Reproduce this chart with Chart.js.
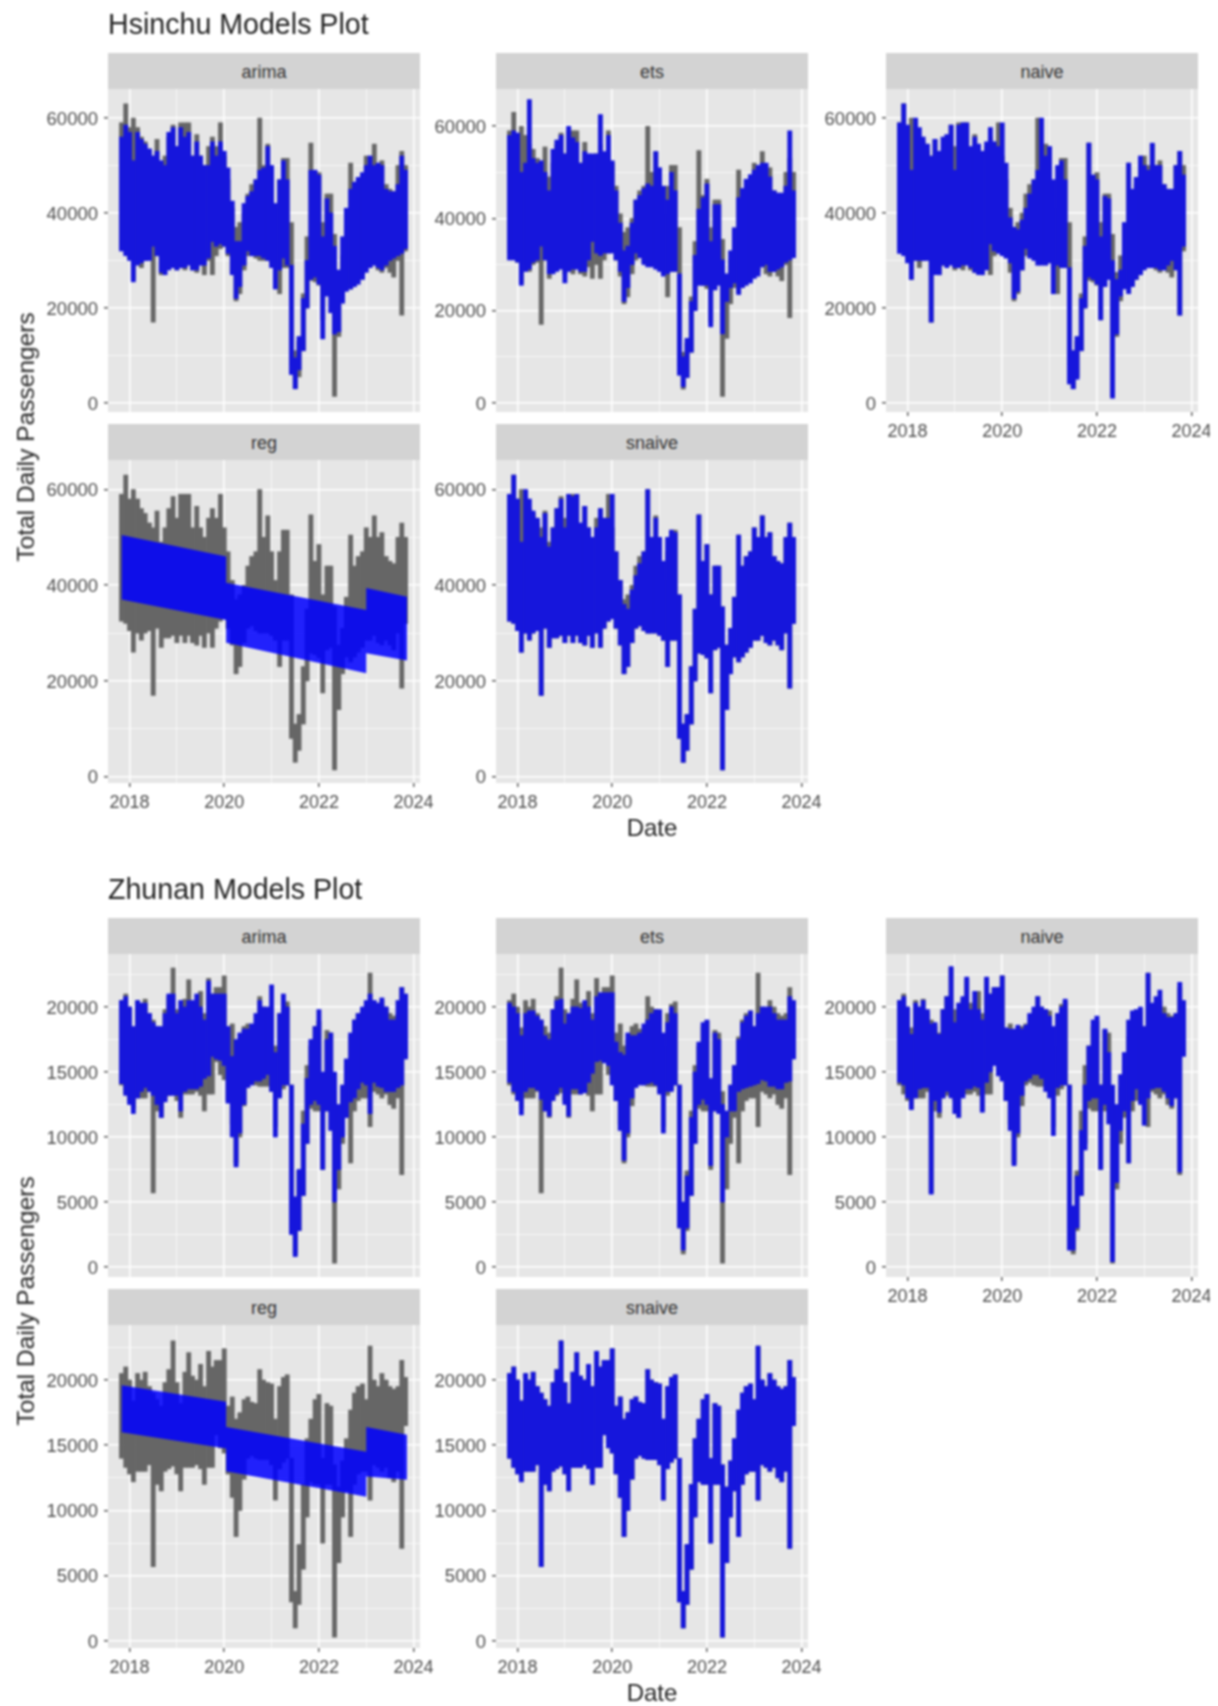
<!DOCTYPE html>
<html lang="en">
<head>
  <meta charset="UTF-8" />
  <title>Models Plot</title>
  <script src="https://cdn.jsdelivr.net/npm/chart.js"></script>
  <style>
    html, body {margin:0;background:#fff;}
    #stage {position:relative;width:1218px;height:1706px;overflow:hidden;font-family:"Liberation Sans",sans-serif;filter:blur(0.9px);}
    #stage canvas {position:absolute;}
    .title {position:absolute;left:108px;font-size:28.6px;line-height:32px;color:#222;white-space:nowrap;}
    .strip {position:absolute;width:312px;height:36px;line-height:38px;background:#d3d3d3;color:#333;text-align:center;font-size:18px;}
    .date {position:absolute;width:312px;text-align:center;font-size:24px;line-height:26px;color:#222;}
    .ylab {position:absolute;left:26px;font-size:24.5px;line-height:26px;color:#222;white-space:nowrap;transform:translate(-50%,-50%) rotate(-90deg);}
  </style>
</head>
<body>
<div id="stage"></div>
<script>
// --------- Axis ticks ---------
const xTicks = [2018,2019,2020,2021,2022,2023,2024];
const hsinchuTicks = [0,10000,20000,30000,40000,50000,60000];
const zhunanTicks = [0,2500,5000,7500,10000,12500,15000,17500,20000,22500];

// --------- Data: monthly envelope of the daily series ---------
const monthDates = [2017.83,2017.92,
  2018.00,2018.08,2018.17,2018.25,2018.33,2018.42,2018.50,2018.58,2018.67,2018.75,2018.83,2018.92,
  2019.00,2019.08,2019.17,2019.25,2019.33,2019.42,2019.50,2019.58,2019.67,2019.75,2019.83,2019.92,
  2020.00,2020.08,2020.17,2020.25,2020.33,2020.42,2020.50,2020.58,2020.67,2020.75,2020.83,2020.92,
  2021.00,2021.08,2021.17,2021.25,2021.33,2021.42,2021.50,2021.58,2021.67,2021.75,2021.83,2021.92,
  2022.00,2022.08,2022.17,2022.25,2022.33,2022.42,2022.50,2022.58,2022.67,2022.75,2022.83,2022.92,
  2023.00,2023.08,2023.17,2023.25,2023.33,2023.42,2023.50,2023.58,2023.67,2023.75,2023.83];

const hsinchuActualHi = [59000,63000,58000,60000,58000,56000,55000,53000,52000,55500,49000,52000,
  56000,58500,54000,59000,59000,59000,52000,56500,52000,50000,54000,56000,
  54000,59000,52000,47000,41000,37000,38000,40000,44000,46000,47000,60000,
  50000,54500,47000,41000,47000,51500,51500,38000,11000,13000,23000,35000,
  54700,45000,48500,38000,44000,44000,35500,27500,31000,37500,50500,44000,
  46000,47000,52000,50000,54500,50000,51000,46000,45000,44500,50000,53000,50000];
const hsinchuActualLo = [32500,32000,30500,26000,30000,28500,30000,30500,17000,31000,27000,29000,
  29000,29500,28000,29500,28000,29500,28000,27500,29500,27000,30000,27000,
  31000,32500,33000,31000,27500,21500,23000,28000,31000,31500,30500,30000,
  30000,30000,29500,28500,23000,28500,28500,8000,3000,5500,11000,20000,
  25800,25500,24800,17500,26500,27000,1400,14000,21500,25000,24000,25000,
  26000,27000,28500,28500,29500,28000,27500,28500,27500,26500,30000,18500,32000];

const hsinchuArimaHi = [56000,58500,57000,51000,57000,55500,54500,53500,52000,53000,51000,50000,
  57000,58000,54000,58000,56000,57000,52000,55000,52000,50000,50000,55000,
  52000,55000,53000,49500,42500,34000,34000,42000,43500,44500,47000,49000,
  49500,54000,50000,42000,47000,51000,47000,29000,9500,14000,22000,30000,
  49000,49000,48000,35000,43000,40000,33000,28000,35000,41000,45000,46500,
  47500,48500,50000,52000,50000,50500,50000,45000,44500,44500,46000,52000,49000];
const hsinchuArimaLo = [32000,31000,30000,25500,29000,29500,30000,30000,33000,31000,27500,27000,
  28000,28500,28000,28500,28500,29000,28000,28000,29000,29000,30500,34000,
  33000,33500,33000,31500,27000,22000,24500,29000,32000,31000,31000,31000,
  30500,30000,28500,24000,28000,30500,29000,6000,3000,7000,11000,20000,
  26000,26500,25000,13500,22500,19000,14500,15000,21000,23500,24000,24500,
  25000,26000,27500,28500,29000,28500,28000,29000,30000,30500,31000,31500,32500];

const hsinchuEtsHi = [58000,59000,58500,50000,52000,65800,53000,52000,52500,50000,46000,55000,
  57000,58000,54000,60000,57500,56500,52000,54500,54000,54000,54000,62500,
  54500,58000,52500,46000,39000,33000,34000,39000,44000,45000,46500,47500,
  47000,54500,51000,47000,44000,50000,46000,28000,10000,14000,22000,32000,
  42000,44500,47500,35000,43000,43000,31000,28000,33000,38000,44500,46500,
  48500,49500,50500,51500,52000,52000,49000,46000,45500,45500,47000,59000,46000];
const hsinchuEtsLo = [31000,31000,30500,25500,28500,29000,30500,31000,34000,31000,28000,28000,
  28500,29000,26000,28500,29000,29000,28500,28500,31000,35000,32500,32000,
  32500,32500,32500,31000,28500,22000,25000,30000,32500,31500,30000,29500,
  29500,29000,28500,27500,28000,28500,28500,6000,3500,5500,11000,20000,
  25500,25500,25500,16500,24500,25500,15000,22000,25000,26000,23500,25000,
  25500,26000,27000,27500,29500,30000,28500,28500,29000,29500,30500,31000,31500];

const hsinchuNaiveHi = [59000,63000,58500,49000,60000,58000,56000,54500,52000,55500,53000,56000,
  56500,58500,49000,58500,59000,59000,54000,56000,54500,53000,55000,58000,
  55000,54000,59000,50500,39000,37000,36500,38500,41000,44000,47000,49000,
  60000,52000,54000,47000,50000,51000,47000,28500,11000,14000,22000,33000,
  54700,48000,47000,35000,43500,43000,30000,26000,28000,38000,50500,45000,
  47500,52000,50000,49000,54700,50000,50000,46000,45000,45000,50000,53000,48000];
const hsinchuNaiveLo = [31500,31000,29500,26000,30000,30000,30000,30000,17000,27000,27000,29000,
  28500,29000,28500,28500,29000,29000,28500,27500,27000,27000,28000,33500,
  32000,31500,31000,30500,29500,22000,23500,28000,32500,30500,30000,29000,
  29000,29000,29500,23000,29000,28500,28500,4000,3000,5000,11000,20000,
  26500,26000,25000,17500,24500,26000,1000,14500,22500,24000,23000,24500,
  26000,27000,28000,28500,28500,28500,28000,28000,29000,30000,28000,18500,33000];

const hsinchuSnaiveHi = [59000,63000,58000,49000,60000,58000,55500,54000,50000,55000,48000,52000,
  56000,58000,52000,59000,58500,59000,53000,56500,52000,50000,52000,56000,
  54000,54000,59000,47000,41000,36000,35000,39000,42000,44500,47000,60000,
  50000,54000,50000,45000,50000,51500,51000,38000,11000,13000,23000,35000,
  54700,45000,48500,38000,44000,44000,35500,27500,31000,37500,50500,44000,
  46000,47000,52000,50000,54500,50000,51000,46000,45000,44500,50000,53000,50000];

const zhunanActualHi = [20500,21000,20000,18400,20500,20000,20600,19500,19000,18500,18000,19800,
  20800,23000,19800,18200,20600,22100,20300,20000,21200,19500,22200,21000,
  21500,21500,22400,18000,18700,17000,17500,18500,18700,18300,18200,20800,
  20000,19800,19700,17000,19500,20200,20400,14000,3800,7400,12000,15500,
  17000,18500,18900,14000,18200,18000,13500,11800,13800,15500,17700,19000,
  19500,19700,18500,22600,20000,19500,20500,20000,19500,19300,19500,21500,20200];
const zhunanActualLo = [14000,13300,12800,12200,13000,13000,13000,13500,5700,12000,11500,13000,
  13200,13400,12800,11500,13300,13300,13300,13500,13200,12000,13300,13300,
  15800,14800,14400,12800,11000,8000,10000,12400,14000,14200,14000,13900,
  13900,13900,13500,10800,13200,13700,14000,3000,1000,2800,5500,9500,
  12200,12000,12000,7500,12000,12000,300,6000,9500,11500,8000,12000,
  12800,13000,13000,10800,13500,13300,13000,13300,12500,12200,13000,7100,16500];

const zhunanArimaHi = [20500,20800,20000,18500,20500,20300,20300,19500,18800,18500,18500,19500,
  21000,21000,19500,20500,20000,20500,20500,21000,20000,19000,22000,21000,
  21000,21000,21000,18500,16200,17500,18000,18300,18300,18700,19500,20500,
  20000,20000,21700,16500,19500,21000,20000,14000,5400,7500,11000,14500,
  17500,18500,19800,15000,17500,18000,15000,12500,14000,16000,18000,19000,
  19500,20000,20500,21000,20500,20300,20700,20000,19000,19000,20500,21500,21000];
const zhunanArimaLo = [14100,13200,12500,11800,13000,13500,13800,13500,13200,12500,11500,12700,
  13200,13200,13200,12000,13500,13700,13700,13700,13900,14500,14700,16200,
  16000,15900,15500,12600,10000,7700,10300,12500,13800,14000,14300,14300,
  14500,14800,13500,10000,13000,14000,14000,2500,800,2800,5500,9500,
  12500,12800,12500,7500,12000,10500,5000,7500,10000,11500,12700,13000,
  13700,14200,14000,11800,14200,13900,13800,13500,13500,13500,13800,14000,16000];

const zhunanEtsHi = [20300,20000,19500,17800,19500,19700,19700,19300,19000,17800,17500,19800,
  20500,20600,18700,19500,20000,20000,19900,20500,20000,19000,20800,21100,
  21100,21100,21100,17300,16500,16300,18000,17800,17800,18000,18700,19000,
  19500,19800,19800,18000,18800,20000,19500,14000,5000,7000,11500,15000,
  17300,18800,19000,14500,18000,17500,12500,12000,14000,15500,17500,18800,
  19300,19700,18500,19500,20000,20000,20000,19500,19000,19000,19000,20800,20500];
const zhunanEtsLo = [14200,13500,12800,11700,13500,13800,13800,13600,12900,12000,11600,12800,
  13300,13800,12500,11600,13700,13700,13300,13400,14200,14900,15800,15900,
  15700,15500,14000,12800,10500,8200,10300,13000,13800,14000,14000,14100,
  14200,14000,13300,10300,13500,13500,14000,3000,1300,3000,5500,9500,
  12500,12900,12500,7800,12000,11800,5000,10000,12000,12000,13500,13700,
  13800,13900,14000,14100,14400,14300,13900,13900,13700,13700,14200,14300,16000];

const zhunanNaiveHi = [20500,20800,20000,17900,20300,20000,20500,19800,18700,18800,17900,19800,
  20800,23100,18800,20300,20800,22300,19800,21200,19800,19000,22300,21000,
  21500,21500,22400,18400,18300,18300,18600,18300,18600,19500,20000,20800,
  20000,19800,19300,18500,19500,20000,20600,14000,4700,7000,10500,14000,
  17000,19000,19300,14000,18300,16500,14000,12500,14800,16500,19000,19700,
  19800,20000,18500,22600,20300,20800,21300,19500,19200,19200,19500,21900,20500];
const zhunanNaiveLo = [14200,14000,13000,12100,13000,13700,13800,13800,5600,12800,11900,13000,
  13500,13000,11800,11500,13000,13700,13700,13900,13800,11900,14200,15000,
  15500,14700,14300,12800,10500,7800,10300,13200,14300,14500,14800,14800,
  14500,13500,13000,10100,13800,14000,14000,1300,1300,3000,5500,9000,
  12800,13000,13000,7500,12500,11000,400,6500,10500,12000,8000,12800,
  13700,12500,10900,13000,13700,13800,13800,13500,13000,12400,13000,7300,16200];

// linear regression bands, two breaks
const regDates = [2017.83,2020.04,2020.04,2023.00,2023.00,2023.86];
const hsinchuRegHi = [50500,46000,40500,34800,39400,37600];
const hsinchuRegLo = [37000,32750,28000,21600,25800,24250];
const zhunanRegHi = [19600,18340,16400,14500,16400,15800];
const zhunanRegLo = [16000,14750,13000,11050,12600,12350];

// --------- Layout helpers ---------
Chart.defaults.font.family = '"Liberation Sans", sans-serif';
Chart.defaults.animation = false;

const GREY = '#666666';
const BLUE = '#1616dc';
const BLUE_BAND = 'rgba(0,0,255,0.86)';
const columnLeft = [108, 496, 886];
const stage = document.getElementById('stage');

const panelBg = {
  id: 'panelBg',
  beforeDraw(chart) {
    const a = chart.chartArea;
    chart.ctx.fillStyle = '#e6e6e6';
    chart.ctx.fillRect(a.left, a.top, a.width, a.height);
  }
};

function addText(cls, text, css) {
  const d = document.createElement('div');
  d.className = cls;
  d.textContent = text;
  Object.assign(d.style, css);
  stage.appendChild(d);
}

function envelope(lo, hi) {
  return monthDates.map((x, i) => ({x, y: [lo[i], hi[i]]}));
}

function addPanel(p) {
  const left = columnLeft[p.col];
  addText('strip', p.model, {left: left + 'px', top: (p.top - 36) + 'px'});

  const cv = document.createElement('canvas');
  const extra = p.col === 2 ? 12 : 22;
  cv.width = 108 + 312 + extra;
  cv.height = p.height + 50;
  cv.style.left = (left - 108) + 'px';
  cv.style.top = p.top + 'px';
  stage.appendChild(cv);

  const datasets = [];
  if (p.regHi) {
    datasets.push({type: 'line', data: regDates.map((x, i) => ({x, y: p.regHi[i]})), fill: '+1',
      backgroundColor: BLUE_BAND, borderWidth: 0, pointRadius: 0, order: 0});
    datasets.push({type: 'line', data: regDates.map((x, i) => ({x, y: p.regLo[i]})), fill: false,
      borderWidth: 0, pointRadius: 0, order: 0});
  } else {
    datasets.push({type: 'bar', data: envelope(p.fitLo, p.fitHi), backgroundColor: BLUE,
      barThickness: 4.2, grouped: false, order: 0});
  }
  datasets.push({type: 'bar', data: envelope(p.actualLo, p.actualHi), backgroundColor: GREY,
    barThickness: 4.2, grouped: false, order: 1});

  // the grid callbacks also run once without a tick, for the axis border
  const isMajorX = c => !!c.tick && c.tick.value % 2 === 0;
  const isMajorY = c => !!c.tick && c.tick.value % p.yMajor === 0;
  new Chart(cv, {
    type: 'bar',
    data: {datasets},
    plugins: [panelBg],
    options: {
      responsive: false,
      events: [],
      layout: {padding: {left: 0, right: extra, top: 0, bottom: 0}},
      plugins: {legend: {display: false}, tooltip: {enabled: false}},
      scales: {
        x: {
          type: 'linear', offset: false, min: 2017.545, max: 2024.135,
          afterBuildTicks(s) { s.ticks = xTicks.map(value => ({value})); },
          afterFit(s) { s.height = 50; s.paddingLeft = 0; s.paddingRight = 0; },
          border: {display: false},
          grid: {
            offset: false,
            color: '#ffffff',
            lineWidth: c => isMajorX(c) ? 1.6 : 0.7,
            tickColor: c => (isMajorX(c) && p.showX) ? '#333333' : 'rgba(0,0,0,0)',
            tickWidth: 1.2, tickLength: 4
          },
          ticks: {
            autoSkip: false, maxRotation: 0, padding: 5,
            color: '#4d4d4d', font: {size: 18},
            callback: v => (v % 2 === 0 && p.showX) ? String(v) : ''
          }
        },
        y: {
          min: p.yMin, max: p.yMax,
          afterBuildTicks(s) { s.ticks = p.yTicks.map(value => ({value})); },
          afterFit(s) { s.width = 108; s.paddingTop = 0; s.paddingBottom = 0; },
          border: {display: false},
          grid: {
            color: '#ffffff',
            lineWidth: c => isMajorY(c) ? 1.6 : 0.7,
            tickColor: c => isMajorY(c) ? '#333333' : 'rgba(0,0,0,0)',
            tickWidth: 1.2, tickLength: 4
          },
          ticks: {
            autoSkip: false, padding: 6, labelOffset: 1.5,
            color: '#4d4d4d', font: {size: 18.5},
            callback: v => v % p.yMajor === 0 ? String(v) : ''
          }
        }
      }
    }
  });
}

// --------- Hsinchu ---------
addText('title', 'Hsinchu Models Plot', {top: '8px'});
addPanel({model: 'arima', col: 0, top: 89, height: 323, yMin: -1895, yMax: 66105, yTicks: hsinchuTicks, yMajor: 20000, showX: false,
  actualHi: hsinchuActualHi, actualLo: hsinchuActualLo, fitHi: hsinchuArimaHi, fitLo: hsinchuArimaLo});
addPanel({model: 'ets', col: 1, top: 89, height: 323, yMin: -1964, yMax: 68070, yTicks: hsinchuTicks, yMajor: 20000, showX: false,
  actualHi: hsinchuActualHi, actualLo: hsinchuActualLo, fitHi: hsinchuEtsHi, fitLo: hsinchuEtsLo});
addPanel({model: 'naive', col: 2, top: 89, height: 323, yMin: -1895, yMax: 66105, yTicks: hsinchuTicks, yMajor: 20000, showX: true,
  actualHi: hsinchuActualHi, actualLo: hsinchuActualLo, fitHi: hsinchuNaiveHi, fitLo: hsinchuNaiveLo});
addPanel({model: 'reg', col: 0, top: 460, height: 323, yMin: -1316, yMax: 66158, yTicks: hsinchuTicks, yMajor: 20000, showX: true,
  actualHi: hsinchuActualHi, actualLo: hsinchuActualLo, regHi: hsinchuRegHi, regLo: hsinchuRegLo});
addPanel({model: 'snaive', col: 1, top: 460, height: 323, yMin: -1316, yMax: 66158, yTicks: hsinchuTicks, yMajor: 20000, showX: true,
  actualHi: hsinchuActualHi, actualLo: hsinchuActualLo, fitHi: hsinchuSnaiveHi, fitLo: hsinchuActualLo});
addText('date', 'Date', {left: columnLeft[1] + 'px', top: '815px'});
addText('ylab', 'Total Daily Passengers', {top: '437px'});

// --------- Zhunan ---------
addText('title', 'Zhunan Models Plot', {top: '873px'});
addPanel({model: 'arima', col: 0, top: 954, height: 323, yMin: -770, yMax: 24077, yTicks: zhunanTicks, yMajor: 5000, showX: false,
  actualHi: zhunanActualHi, actualLo: zhunanActualLo, fitHi: zhunanArimaHi, fitLo: zhunanArimaLo});
addPanel({model: 'ets', col: 1, top: 954, height: 323, yMin: -770, yMax: 24077, yTicks: zhunanTicks, yMajor: 5000, showX: false,
  actualHi: zhunanActualHi, actualLo: zhunanActualLo, fitHi: zhunanEtsHi, fitLo: zhunanEtsLo});
addPanel({model: 'naive', col: 2, top: 954, height: 323, yMin: -770, yMax: 24077, yTicks: zhunanTicks, yMajor: 5000, showX: true,
  actualHi: zhunanActualHi, actualLo: zhunanActualLo, fitHi: zhunanNaiveHi, fitLo: zhunanNaiveLo});
addPanel({model: 'reg', col: 0, top: 1325, height: 323, yMin: -536, yMax: 24215, yTicks: zhunanTicks, yMajor: 5000, showX: true,
  actualHi: zhunanActualHi, actualLo: zhunanActualLo, regHi: zhunanRegHi, regLo: zhunanRegLo});
addPanel({model: 'snaive', col: 1, top: 1325, height: 323, yMin: -536, yMax: 24215, yTicks: zhunanTicks, yMajor: 5000, showX: true,
  actualHi: zhunanActualHi, actualLo: zhunanActualLo, fitHi: zhunanActualHi, fitLo: zhunanActualLo});
addText('date', 'Date', {left: columnLeft[1] + 'px', top: '1680px'});
addText('ylab', 'Total Daily Passengers', {top: '1301px'});
</script>
</body>
</html>
